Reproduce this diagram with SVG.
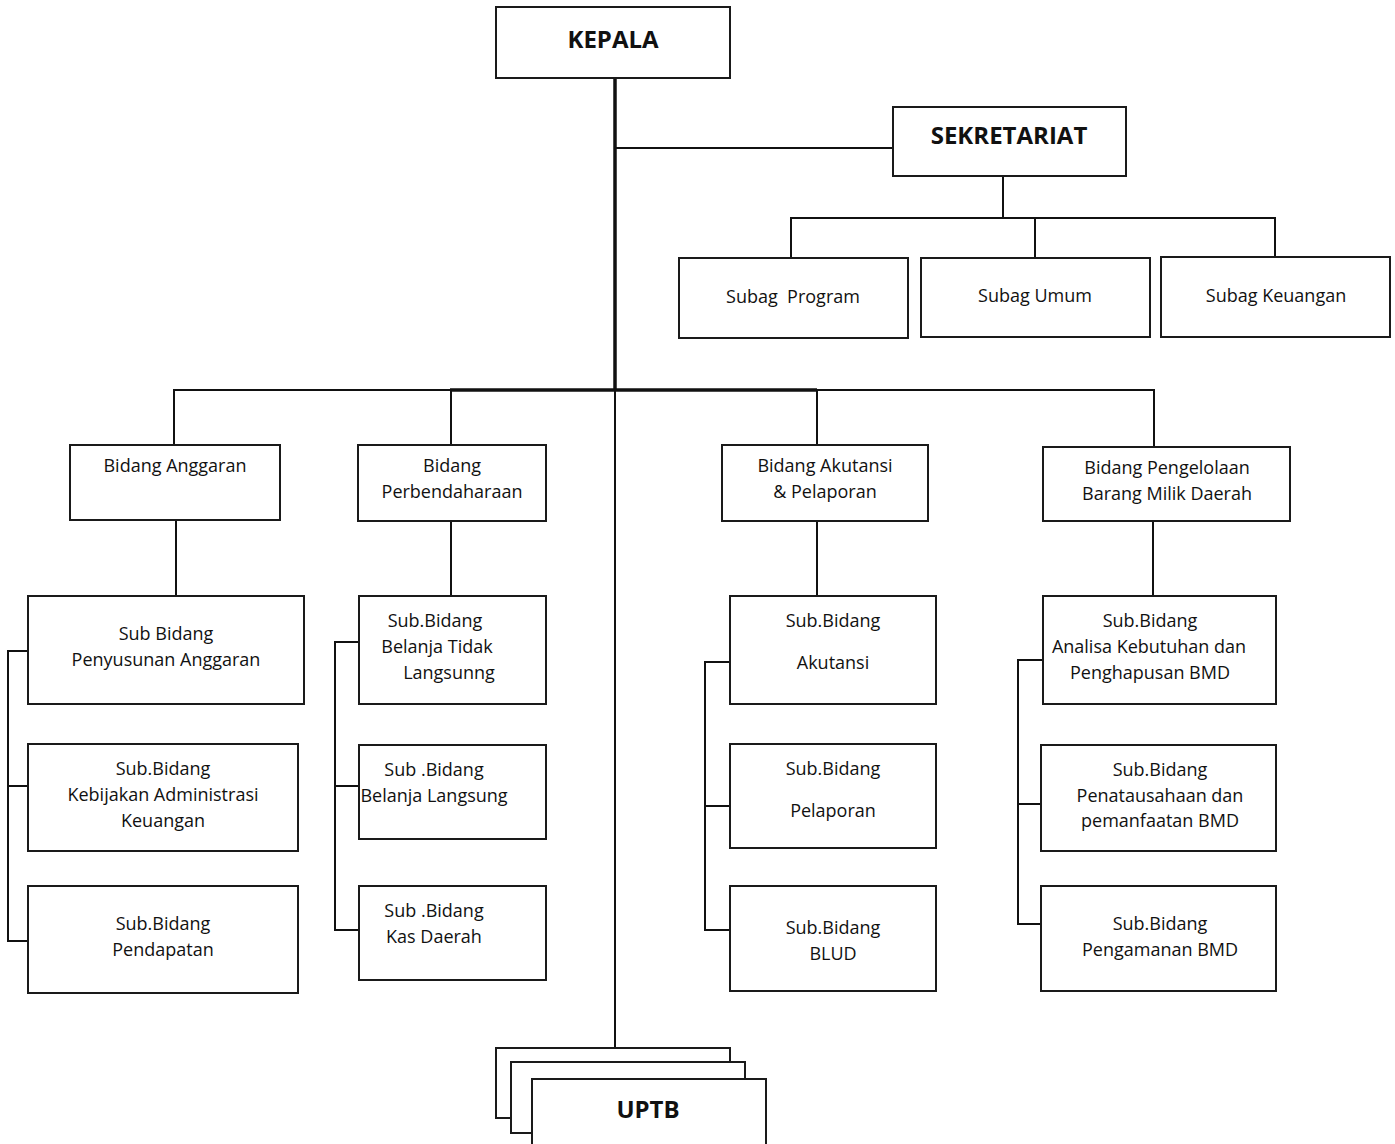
<svg xmlns="http://www.w3.org/2000/svg" width="1395" height="1144" viewBox="0 0 1395 1144">
<style>
rect{fill:#fff;stroke:#1a1a1a;stroke-width:2}
rect.bg{stroke:none}
text{font-family:"Open Sans","Liberation Sans",sans-serif;font-size:18px;fill:#111;text-anchor:middle;white-space:pre}
.b{font-weight:bold;font-size:24px}
.c line,.c polyline{stroke:#111;stroke-width:2;fill:none}
.c .t{stroke-width:3.5}
</style>
<rect class="bg" width="1395" height="1144"/>
<g class="c" id="connectors">
<line class="t" x1="615" y1="78" x2="615" y2="391"/>
<line x1="615" y1="390" x2="615" y2="1048"/>
<line x1="615" y1="148" x2="893" y2="148"/>
<line x1="1003" y1="176" x2="1003" y2="218"/>
<polyline points="791,258 791,218 1275,218 1275,257"/>
<line x1="1035" y1="218" x2="1035" y2="258"/>
<polyline points="174,445 174,390 1154,390 1154,447"/>
<line class="t" x1="450" y1="390" x2="817" y2="390"/>
<line x1="451" y1="390" x2="451" y2="445"/>
<line x1="817" y1="390" x2="817" y2="445"/>
<line x1="176" y1="520" x2="176" y2="596"/>
<line x1="451" y1="521" x2="451" y2="596"/>
<line x1="817" y1="521" x2="817" y2="596"/>
<line x1="1153" y1="521" x2="1153" y2="596"/>
<polyline points="28,651 8,651 8,941 28,941"/>
<line x1="8" y1="786" x2="28" y2="786"/>
<polyline points="359,642 335,642 335,930 359,930"/>
<line x1="335" y1="786" x2="359" y2="786"/>
<polyline points="730,662 705,662 705,930 730,930"/>
<line x1="705" y1="806" x2="730" y2="806"/>
<polyline points="1043,660 1018,660 1018,924 1041,924"/>
<line x1="1018" y1="804" x2="1041" y2="804"/>
</g>
<g id="kepala"><rect x="496" y="7" width="234" height="71"/><text class="b" x="613" y="48">KEPALA</text></g>
<g id="sekretariat"><rect x="893" y="107" width="233" height="69"/><text class="b" x="1009" y="144">SEKRETARIAT</text></g>
<g id="subag-program"><rect x="679" y="258" width="229" height="80"/><text x="793" y="303">Subag  Program</text></g>
<g id="subag-umum"><rect x="921" y="258" width="229" height="79"/><text x="1035" y="302">Subag Umum</text></g>
<g id="subag-keuangan"><rect x="1161" y="257" width="229" height="80"/><text x="1276" y="302">Subag Keuangan</text></g>
<g id="bidang-anggaran"><rect x="70" y="445" width="210" height="75"/><text x="175" y="472">Bidang Anggaran</text></g>
<g id="bidang-perbendaharaan"><rect x="358" y="445" width="188" height="76"/><text x="452" y="472">Bidang</text><text x="452" y="498">Perbendaharaan</text></g>
<g id="bidang-akutansi"><rect x="722" y="445" width="206" height="76"/><text x="825" y="472">Bidang Akutansi</text><text x="825" y="498">&amp; Pelaporan</text></g>
<g id="bidang-bmd"><rect x="1043" y="447" width="247" height="74"/><text x="1167" y="474">Bidang Pengelolaan</text><text x="1167" y="500">Barang Milik Daerah</text></g>
<g id="sb-penyusunan"><rect x="28" y="596" width="276" height="108"/><text x="166" y="640">Sub Bidang</text><text x="166" y="666">Penyusunan Anggaran</text></g>
<g id="sb-kebijakan"><rect x="28" y="744" width="270" height="107"/><text x="163" y="775">Sub.Bidang</text><text x="163" y="801">Kebijakan Administrasi</text><text x="163" y="827">Keuangan</text></g>
<g id="sb-pendapatan"><rect x="28" y="886" width="270" height="107"/><text x="163" y="930">Sub.Bidang</text><text x="163" y="956">Pendapatan</text></g>
<g id="sb-btl"><rect x="359" y="596" width="187" height="108"/><text x="435" y="627">Sub.Bidang</text><text x="437" y="653">Belanja Tidak</text><text x="449" y="679">Langsunng</text></g>
<g id="sb-bl"><rect x="359" y="745" width="187" height="94"/><text x="434" y="776">Sub .Bidang</text><text x="434" y="802">Belanja Langsung</text></g>
<g id="sb-kas"><rect x="359" y="886" width="187" height="94"/><text x="434" y="917">Sub .Bidang</text><text x="434" y="943">Kas Daerah</text></g>
<g id="sb-akutansi"><rect x="730" y="596" width="206" height="108"/><text x="833" y="627">Sub.Bidang</text><text x="833" y="669">Akutansi</text></g>
<g id="sb-pelaporan"><rect x="730" y="744" width="206" height="104"/><text x="833" y="775">Sub.Bidang</text><text x="833" y="817">Pelaporan</text></g>
<g id="sb-blud"><rect x="730" y="886" width="206" height="105"/><text x="833" y="934">Sub.Bidang</text><text x="833" y="960">BLUD</text></g>
<g id="sb-analisa"><rect x="1043" y="596" width="233" height="108"/><text x="1150" y="627">Sub.Bidang</text><text x="1149" y="653">Analisa Kebutuhan dan</text><text x="1150" y="679">Penghapusan BMD</text></g>
<g id="sb-penatausahaan"><rect x="1041" y="745" width="235" height="106"/><text x="1160" y="776">Sub.Bidang</text><text x="1160" y="802">Penatausahaan dan</text><text x="1160" y="827">pemanfaatan BMD</text></g>
<g id="sb-pengamanan"><rect x="1041" y="886" width="235" height="105"/><text x="1160" y="930">Sub.Bidang</text><text x="1160" y="956">Pengamanan BMD</text></g>
<g id="uptb"><rect x="496" y="1048" width="234" height="70"/><rect x="511" y="1062" width="234" height="71"/><rect x="532" y="1079" width="234" height="80"/><text class="b" x="648" y="1118">UPTB</text></g>
</svg>
